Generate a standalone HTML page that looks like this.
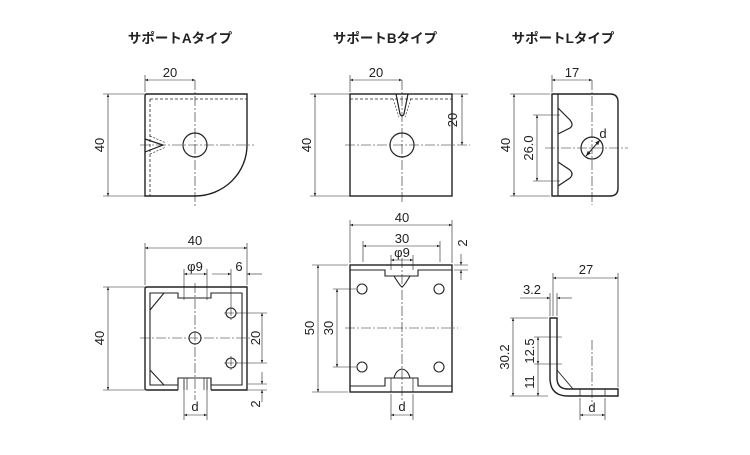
<!DOCTYPE html>
<html><head><meta charset="utf-8"><style>
body{margin:0;background:#fff;width:750px;height:450px;overflow:hidden}
svg text{font-family:"Liberation Sans","Noto Sans CJK JP",sans-serif;font-size:13px;fill:#222}
.t{font-size:13.5px;font-weight:bold}
</style></head><body>
<svg width="750" height="450" viewBox="0 0 750 450" xmlns="http://www.w3.org/2000/svg">
<defs>
<marker id="a" viewBox="0 0 10 10" refX="10" refY="5" markerWidth="7" markerHeight="5" orient="auto-start-reverse"><path d="M0,1 L10,5 L0,9z" fill="#222"/></marker>
</defs>
<text class="t" x="180" y="43" text-anchor="middle">サポートAタイプ</text>
<text class="t" x="385" y="43" text-anchor="middle">サポートBタイプ</text>
<text class="t" x="563" y="43" text-anchor="middle">サポートLタイプ</text>

<!-- ===== A top ===== -->
<g fill="none" stroke="#222">
<path d="M145,196 V96 Q145,94 147,94 H247 V145 A52,51 0 0 1 195,196 Z" stroke-width="1.4"/>
<path d="M150,99 H247 M150,99 V196" stroke-width="0.8" stroke-dasharray="3,2"/>
<circle cx="195" cy="145" r="12" stroke-width="1.2"/>
<path d="M145,139 L163,145 L145,152" stroke-width="1.2"/>
<path d="M150,136 L166,143 M150,154 L166,147" stroke-width="0.6" stroke-dasharray="2,1.5"/>
<g stroke-width="0.6">
<path d="M195,80 V208 M140,145 H254" stroke-dasharray="10,2,2,2"/>
<path d="M145,92 V75 M103,94 H145 M103,196 H195"/>
<path d="M145,80 H195" marker-start="url(#a)" marker-end="url(#a)"/>
<path d="M108,94 V196" marker-start="url(#a)" marker-end="url(#a)"/>
</g>
</g>
<text x="170" y="77" text-anchor="middle">20</text>
<text transform="translate(104,145) rotate(-90)" text-anchor="middle">40</text>

<!-- ===== A bottom ===== -->
<g fill="none" stroke="#222">
<path d="M178,390 H147 Q145,390 145,388 V289 Q145,287 147,287 H247 V390 H211" stroke-width="1.4"/>
<path d="M150,293 H178 V298 H211 V293 H242 V385 H211 V378 H178 V385 H150 Z" stroke-width="1.1"/>
<path d="M178,378 V390 M211,378 V390" stroke-width="1.1"/>
<path d="M184,378 V390 M187,378 V390 M204,378 V390 M207,378 V390" stroke-width="0.7"/>
<path d="M150,310 L164,293 M150,370 L164,385" stroke-width="1.1"/>
<circle cx="231" cy="313" r="5" stroke-width="1.1"/>
<circle cx="231" cy="363" r="5" stroke-width="1.1"/>
<circle cx="195" cy="338" r="6" stroke-width="1.1"/>
<g stroke-width="0.6">
<path d="M195,283 V400 M140,338 H252 M224,313 H238 M231,306 V320 M224,363 H238 M231,356 V370" stroke-dasharray="10,2,2,2"/>
<path d="M145,285 V243 M247,285 V243 M184,300 V269 M207,300 V269 M231,306 V269 M247,285 V269"/>
<path d="M103,287 H145 M103,390 H145 M237,313 H267 M237,363 H267 M248,384 H267 M248,390 H267"/>
<path d="M184,380 V420 M207,380 V420"/>
<path d="M145,248 H247" marker-start="url(#a)" marker-end="url(#a)"/>
<path d="M184,274 H207" marker-start="url(#a)" marker-end="url(#a)"/>
<path d="M212,274 H231" marker-end="url(#a)"/><path d="M262,274 H247" marker-end="url(#a)"/>
<path d="M262,313 V363" marker-start="url(#a)" marker-end="url(#a)"/>
<path d="M262,372 V384" marker-end="url(#a)"/><path d="M262,402 V390" marker-end="url(#a)"/>
<path d="M108,287 V390" marker-start="url(#a)" marker-end="url(#a)"/>
<path d="M184,415 H207" marker-start="url(#a)" marker-end="url(#a)"/>
</g>
</g>
<text x="195" y="245" text-anchor="middle">40</text>
<text x="195" y="271" text-anchor="middle">φ9</text>
<text x="239" y="271" text-anchor="middle">6</text>
<text transform="translate(260,338) rotate(-90)" text-anchor="middle">20</text>
<text transform="translate(260,404) rotate(-90)" text-anchor="middle">2</text>
<text transform="translate(104,338) rotate(-90)" text-anchor="middle">40</text>
<text x="195" y="411" text-anchor="middle">d</text>

<!-- ===== B top ===== -->
<g fill="none" stroke="#222">
<rect x="350" y="94" width="102" height="102" stroke-width="1.4"/>
<path d="M350,99 H452" stroke-width="0.8" stroke-dasharray="3,2"/>
<path d="M396,94 L400,114 Q402,118 404,114 L408,94" stroke-width="1.2"/>
<path d="M393,99 L399,117 M411,99 L405,117" stroke-width="0.6" stroke-dasharray="2,1.5"/>
<circle cx="402" cy="145" r="12" stroke-width="1.2"/>
<g stroke-width="0.6">
<path d="M402,80 V203 M345,145 H470" stroke-dasharray="10,2,2,2"/>
<path d="M350,92 V75 M310,94 H350 M310,196 H350 M452,94 H468"/>
<path d="M350,80 H402" marker-start="url(#a)" marker-end="url(#a)"/>
<path d="M462,94 V145" marker-start="url(#a)" marker-end="url(#a)"/>
<path d="M315,94 V196" marker-start="url(#a)" marker-end="url(#a)"/>
</g>
</g>
<text x="376" y="77" text-anchor="middle">20</text>
<text transform="translate(457,120) rotate(-90)" text-anchor="middle">20</text>
<text transform="translate(311,145) rotate(-90)" text-anchor="middle">40</text>

<!-- ===== B bottom ===== -->
<g fill="none" stroke="#222">
<rect x="350" y="265" width="102" height="127" stroke-width="1.4"/>
<path d="M350,270 H385 V276 H418 V270 H452" stroke-width="1.1"/>
<path d="M394,276 Q400,286 402,287 Q404,286 410,276" stroke-width="1.1"/>
<path d="M350,386 H385 V378 H418 V386 H452" stroke-width="1.1"/>
<path d="M394,378 Q396,370 402,369 Q408,370 410,378" stroke-width="1.1"/>
<path d="M391,378 V392 M413,378 V392" stroke-width="0.7"/>
<circle cx="362" cy="289" r="5" stroke-width="1.1"/>
<circle cx="439" cy="289" r="5" stroke-width="1.1"/>
<circle cx="362" cy="367" r="5" stroke-width="1.1"/>
<circle cx="439" cy="367" r="5" stroke-width="1.1"/>
<g stroke-width="0.6">
<path d="M402,258 V400 M345,328 H458" stroke-dasharray="10,2,2,2"/>
<path d="M350,263 V220 M452,263 V220 M363,262 V241 M440,262 V241 M391,270 V255 M413,270 V255"/>
<path d="M312,265 H348 M312,392 H348 M333,289 H356 M333,367 H356 M454,265 H468 M454,270 H468"/>
<path d="M391,394 V420 M413,394 V420"/>
<path d="M350,225 H452" marker-start="url(#a)" marker-end="url(#a)"/>
<path d="M363,246 H440" marker-start="url(#a)" marker-end="url(#a)"/>
<path d="M391,260 H413" marker-start="url(#a)" marker-end="url(#a)"/>
<path d="M461,254 V265" marker-end="url(#a)"/><path d="M461,280 V270" marker-end="url(#a)"/>
<path d="M318,265 V392" marker-start="url(#a)" marker-end="url(#a)"/>
<path d="M337,289 V367" marker-start="url(#a)" marker-end="url(#a)"/>
<path d="M391,415 H413" marker-start="url(#a)" marker-end="url(#a)"/>
</g>
</g>
<text x="402" y="222" text-anchor="middle">40</text>
<text x="402" y="243" text-anchor="middle">30</text>
<text x="402" y="257" text-anchor="middle">φ9</text>
<text transform="translate(467,243) rotate(-90)" text-anchor="middle">2</text>
<text transform="translate(314,328) rotate(-90)" text-anchor="middle">50</text>
<text transform="translate(333,328) rotate(-90)" text-anchor="middle">30</text>
<text x="402" y="411" text-anchor="middle">d</text>

<!-- ===== L top ===== -->
<g fill="none" stroke="#222">
<path d="M552,94 H610 Q618,94 618,102 V188 Q618,196 610,196 H552 Z" stroke-width="1.4"/>
<path d="M558,94 V196" stroke-width="1.2"/>
<path d="M558,108 L570,120 Q574,125 570,128 L558,134 M558,162 L570,170 Q574,174 570,178 L558,186" stroke-width="1.2"/>
<circle cx="592" cy="148" r="11" stroke-width="1.2"/>
<path d="M586,156 L600,140" stroke-width="1" marker-start="url(#a)" marker-end="url(#a)"/>
<g stroke-width="0.6">
<path d="M592,80 V205 M545,148 H628" stroke-dasharray="10,2,2,2"/>
<path d="M552,92 V75 M510,94 H550 M510,196 H550 M533,115 H560 M533,181 H560"/>
<path d="M552,80 H592" marker-start="url(#a)" marker-end="url(#a)"/>
<path d="M514,94 V196" marker-start="url(#a)" marker-end="url(#a)"/>
<path d="M537,115 V181" marker-start="url(#a)" marker-end="url(#a)"/>
</g>
</g>
<text x="572" y="77" text-anchor="middle">17</text>
<text transform="translate(510,145) rotate(-90)" text-anchor="middle">40</text>
<text transform="translate(533,148) rotate(-90)" text-anchor="middle">26.0</text>
<text x="603" y="138" text-anchor="middle">d</text>

<!-- ===== L bottom ===== -->
<g fill="none" stroke="#222">
<path d="M550,318 H557 V378 Q557,389 568,389 H618 V396 H568 Q550,396 550,378 Z" stroke-width="1.4"/>
<path d="M557,370 L573,389" stroke-width="0.9"/>
<path d="M580,389 V396 M605,389 V396" stroke-width="0.7"/>
<g stroke-width="0.6">
<path d="M592,340 V405" stroke-dasharray="10,2,2,2"/>
<path d="M553,316 V273 M618,387 V273 M550,316 V293 M557,316 V293"/>
<path d="M510,318 H548 M510,396 H548 M534,337 H562 M534,364 H562"/>
<path d="M580,398 V420 M605,398 V420"/>
<path d="M553,278 H618" marker-start="url(#a)" marker-end="url(#a)"/>
<path d="M520,298 H550" marker-end="url(#a)"/><path d="M572,298 H557" marker-end="url(#a)"/>
<path d="M513,318 V396" marker-start="url(#a)" marker-end="url(#a)"/>
<path d="M538,337 V364" marker-start="url(#a)" marker-end="url(#a)"/>
<path d="M538,364 V396" marker-end="url(#a)"/>
<path d="M580,415 H605" marker-start="url(#a)" marker-end="url(#a)"/>
</g>
</g>
<text x="586" y="274" text-anchor="middle">27</text>
<text x="532" y="294" text-anchor="middle">3.2</text>
<text transform="translate(509,357) rotate(-90)" text-anchor="middle">30.2</text>
<text transform="translate(534,351) rotate(-90)" text-anchor="middle">12.5</text>
<text transform="translate(534,382) rotate(-90)" text-anchor="middle">11</text>
<text x="592" y="412" text-anchor="middle">d</text>
</svg>
</body></html>
